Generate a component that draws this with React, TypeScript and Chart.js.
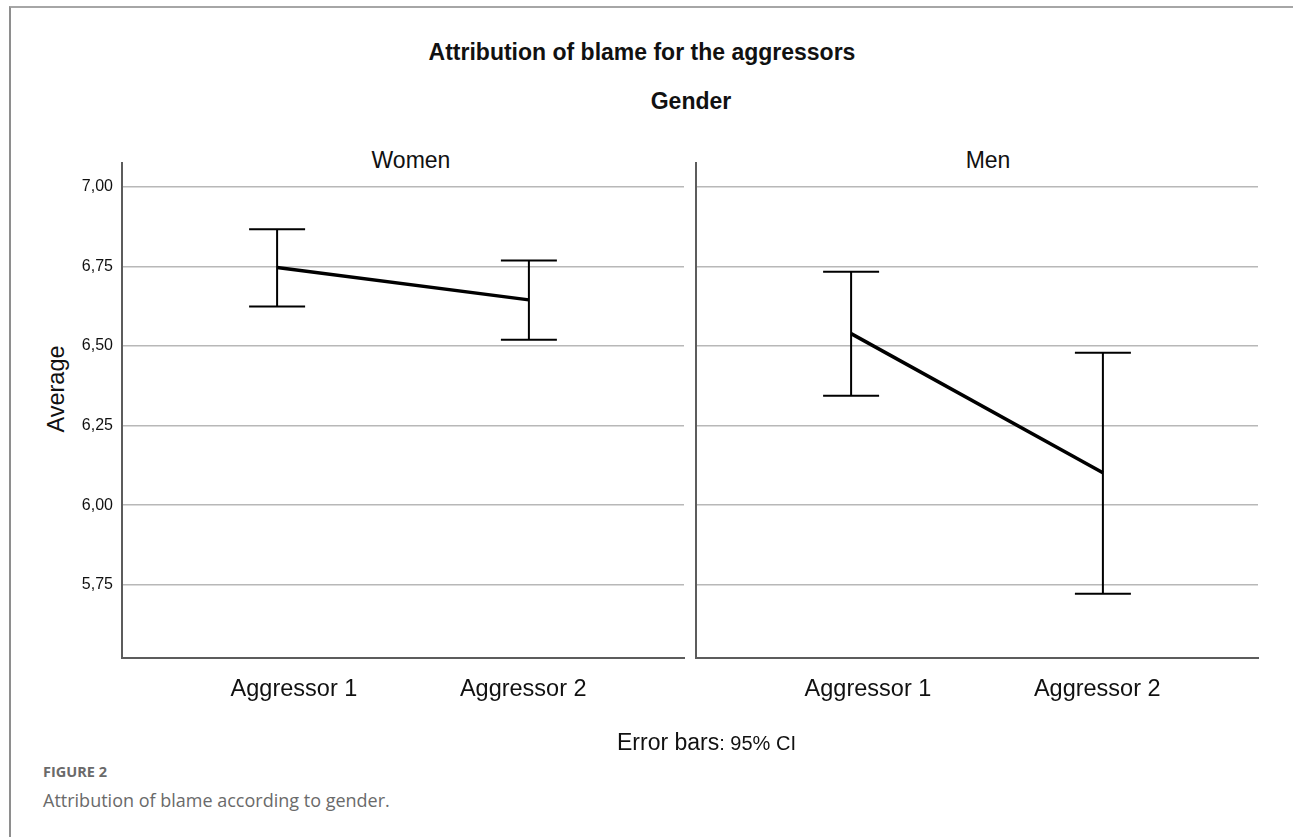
import React, { useEffect, useRef } from "react";
import { Chart, registerables } from "chart.js";

Chart.register(...registerables);

const panelTitles = ["Women", "Men"];
const categories = ["Aggressor 1", "Aggressor 2"];
const womenMean = [6.747, 6.645];
const womenLow = [6.624, 6.52];
const womenHigh = [6.867, 6.769];
const menMean = [6.539, 6.102];
const menLow = [6.344, 5.722];
const menHigh = [6.733, 6.479];
const yTicks = [5.75, 6.0, 6.25, 6.5, 6.75, 7.0];
const yMin = 5.52;
const yMax = 7.075;

const AXIS_FONT = '"Liberation Sans", Arial, sans-serif';

function errorBarPlugin(low: number[], high: number[]) {
  return {
    id: "errorBars",
    afterDatasetsDraw(chart: any) {
      const xs = chart.scales.x;
      const ys = chart.scales.y;
      const ctx = chart.ctx;
      ctx.save();
      ctx.strokeStyle = "#000";
      ctx.lineWidth = 2;
      ctx.lineCap = "butt";
      for (let i = 0; i < low.length; i++) {
        const px = xs.getPixelForValue(i);
        const pl = ys.getPixelForValue(low[i]);
        const ph = ys.getPixelForValue(high[i]);
        const cap = 28;
        ctx.beginPath();
        ctx.moveTo(px, pl);
        ctx.lineTo(px, ph);
        ctx.moveTo(px - cap, pl);
        ctx.lineTo(px + cap, pl);
        ctx.moveTo(px - cap, ph);
        ctx.lineTo(px + cap, ph);
        ctx.stroke();
      }
      ctx.restore();
    },
  };
}

function makeConfig(mean: number[], low: number[], high: number[], showY: boolean): any {
  return {
    type: "line",
    data: {
      datasets: [
        {
          data: mean.map((v, i) => ({ x: i, y: v })),
          borderColor: "#000",
          borderWidth: 3.5,
          pointRadius: 0,
          fill: false,
          tension: 0,
          xAxisID: "x",
          yAxisID: "y",
        },
      ],
    },
    options: {
      responsive: false,
      animation: false,
      devicePixelRatio: 1,
      layout: { padding: { top: 13, right: showY ? 6 : 4, left: 0, bottom: 0 } },
      plugins: { legend: { display: false }, tooltip: { enabled: false }, title: { display: false } },
      scales: {
        x: { type: "linear", display: false, min: -0.616, max: 1.616 },
        xl: {
          type: "linear",
          position: "bottom",
          min: -0.75,
          max: 1.701,
          afterBuildTicks: (s: any) => {
            s.ticks = categories.map((_, i) => ({ value: i }));
          },
          afterFit: (s: any) => {
            s.height = 72;
            s.paddingLeft = 0;
            s.paddingRight = 0;
          },
          ticks: {
            callback: (v: any) => categories[Math.round(Number(v))] ?? "",
            font: { family: AXIS_FONT, size: 23.5 },
            color: "#111",
            padding: 17,
            maxRotation: 0,
            autoSkip: false,
          },
          grid: { display: false, drawTicks: false },
          border: { display: true, color: "#5c5c5c", width: 2 },
        },
        y: {
          type: "linear",
          position: "left",
          min: yMin,
          max: yMax,
          afterBuildTicks: (s: any) => {
            s.ticks = yTicks.map((v) => ({ value: v }));
          },
          afterFit: (s: any) => {
            s.width = showY ? 92 : 6;
            s.paddingTop = 0;
            s.paddingBottom = 0;
          },
          ticks: {
            display: showY,
            callback: (v: any) => Number(v).toFixed(2).replace(".", ","),
            font: { family: AXIS_FONT, size: 16 },
            color: "#111",
            padding: 9,
          },
          grid: { color: "#b8b8b8", lineWidth: 1.5, drawTicks: false },
          border: { display: true, color: "#5c5c5c", width: 2 },
        },
      },
    },
    plugins: [errorBarPlugin(low, high)],
  };
}

const textBase: React.CSSProperties = {
  position: "absolute",
  fontFamily: AXIS_FONT,
  color: "#111",
  whiteSpace: "nowrap",
  lineHeight: 1,
};

export default function App() {
  const leftRef = useRef<HTMLCanvasElement>(null);
  const rightRef = useRef<HTMLCanvasElement>(null);

  useEffect(() => {
    const c1 = new Chart(leftRef.current as HTMLCanvasElement, makeConfig(womenMean, womenLow, womenHigh, true));
    const c2 = new Chart(rightRef.current as HTMLCanvasElement, makeConfig(menMean, menLow, menHigh, false));
    return () => {
      c1.destroy();
      c2.destroy();
    };
  }, []);

  return (
    <div style={{ position: "fixed", left: 0, top: 0, width: 1293, height: 837, background: "#fff", overflow: "hidden" }}>
      <div
        style={{
          position: "absolute",
          left: 9,
          top: 6,
          width: 1400,
          height: 900,
          borderTop: "2px solid #a6a6a6",
          borderLeft: "2px solid #8e8e8e",
        }}
      />
      <div style={{ ...textBase, left: 0, width: 1284, top: 41, textAlign: "center", fontSize: 23, fontWeight: 700 }}>
        Attribution of blame for the aggressors
      </div>
      <div style={{ ...textBase, left: 0, width: 1382, top: 90, textAlign: "center", fontSize: 23, fontWeight: 700 }}>
        Gender
      </div>
      <div style={{ ...textBase, left: 311, width: 200, top: 149, textAlign: "center", fontSize: 23 }}>{panelTitles[0]}</div>
      <div style={{ ...textBase, left: 888, width: 200, top: 149, textAlign: "center", fontSize: 23 }}>{panelTitles[1]}</div>
      <div
        style={{
          ...textBase,
          left: 57 - 60,
          top: 389 - 12,
          width: 120,
          height: 24,
          textAlign: "center",
          fontSize: 23.5,
          transform: "rotate(-90deg)",
        }}
      >
        Average
      </div>
      <canvas ref={leftRef} width={660} height={580} style={{ position: "absolute", left: 30, top: 150, width: 660, height: 580 }} />
      <canvas ref={rightRef} width={572} height={580} style={{ position: "absolute", left: 690, top: 150, width: 572, height: 580 }} />
      <div style={{ ...textBase, left: 617, top: 731, fontSize: 23 }}>
        Error bars<span style={{ fontSize: 20 }}>: 95% CI</span>
      </div>
      <div
        style={{
          position: "absolute",
          left: 43,
          top: 765,
          fontFamily: '"Open Sans", "Noto Sans", sans-serif',
          fontWeight: 700,
          fontSize: 14.5,
          lineHeight: 1,
          color: "#6a6a6a",
        }}
      >
        FIGURE 2
      </div>
      <div
        style={{
          position: "absolute",
          left: 43,
          top: 791,
          fontFamily: '"Open Sans", "Noto Sans", sans-serif',
          fontSize: 18,
          lineHeight: 1,
          color: "#6a6a6a",
          whiteSpace: "nowrap",
        }}
      >
        Attribution of blame according to gender.
      </div>
    </div>
  );
}
